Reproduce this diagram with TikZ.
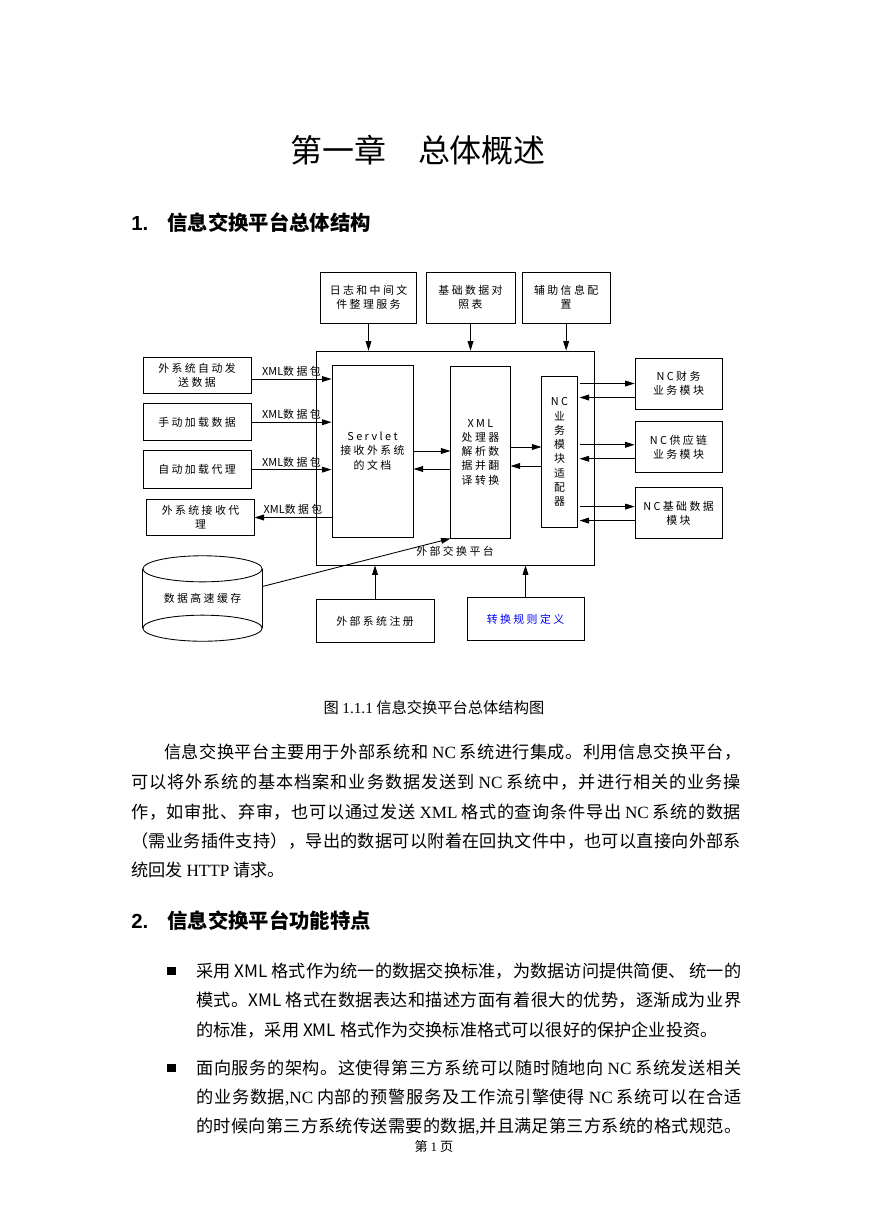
\documentclass[tikz,border=0pt]{standalone}
\usepackage{fontspec}
\setmainfont{Liberation Serif}
\setsansfont{Liberation Sans}
\newfontfamily\cjk{Noto Sans CJK SC}
\newfontfamily\cjkd[LetterSpace=22]{Noto Sans CJK SC}
\usepackage{xcolor}
\usepackage{tikz}
\usetikzlibrary{arrows.meta, positioning, calc}
% glue between CJK characters, used for full (justified) lines
\newcount\cjkc
\cjkc="4E00
\loop \XeTeXcharclass\cjkc=1 \advance\cjkc by 1 \ifnum\cjkc<"A000 \repeat
\XeTeXcharclass"3001=3 \XeTeXcharclass"3002=3
\XeTeXcharclass"FF0C=3 \XeTeXcharclass"FF09=3 \XeTeXcharclass"FF08=2
\def\cjkglue{\hskip0pt plus 1fil\relax}
\XeTeXinterchartoks 1 1 = {\cjkglue}
\XeTeXinterchartoks 1 2 = {\cjkglue}
\XeTeXinterchartoks 1 3 = {\cjkglue}
\XeTeXinterchartoks 2 1 = {\cjkglue}
\XeTeXinterchartoks 2 2 = {\cjkglue}
\XeTeXinterchartoks 2 3 = {\cjkglue}
\XeTeXinterchartoks 3 1 = {\cjkglue}
\XeTeXinterchartoks 3 2 = {\cjkglue}
\XeTeXinterchartoks 3 3 = {\cjkglue}
\newcommand\fullln[2]{\hbox to #1{\XeTeXinterchartokenstate=1 #2}}

\begin{document}
\begin{tikzpicture}[
      x=0.2417mm, y=-0.2417mm,
      font=\cjkd\fontsize{7.5}{9.8}\selectfont,
      box/.style={rectangle, draw, line width=0.6pt, align=center, inner sep=0pt},
      arr/.style={-{Triangle[length=2.3mm, width=1.4mm]}, line width=0.6pt},
      pkt/.style={above, inner sep=1.5pt},
      body/.style={font=\cjk\fontsize{11.8}{14}\selectfont, inner sep=0pt, anchor=west},
      head/.style={font=\cjk\bfseries\fontsize{14}{16}\selectfont, inner sep=0pt, anchor=west},
      headnum/.style={font=\sffamily\bfseries\fontsize{14}{16}\selectfont, inner sep=0pt, anchor=west},
      dot/.style={fill, minimum size=2.1mm, inner sep=0pt}
    ]
      \fill[white] (0,0) rectangle (869,1228);
      \useasboundingbox (0,0) rectangle (869,1228);
      % page heading
      \node[font=\cjk\fontsize{22}{26}\selectfont] (title) at (418,150) {第一章\quad 总体概述};
      \node[headnum] (h1n) at (131,223) {1.};
      \node[head] (h1) at (167,223) {信息交换平台总体结构};
      % top services
      \node[box, minimum width=23.4mm, minimum height=12.3mm] (log) at (368.5,297.5) {日志和中间文\\件整理服务};
      \node[box, minimum width=21.5mm, minimum height=12.3mm, right=2mm of log] (base) {基础数据对\\照表};
      \node[box, minimum width=21.3mm, minimum height=12.3mm, right=1.5mm of base] (aux) {辅助信息配\\置};
      % platform
      \node[box, minimum width=67.2mm, minimum height=51.7mm] (plat) at (455,458) {};
      \node[above=1mm of plat.south] (platlbl) {外部交换平台};
      \node[box, minimum width=19.6mm, minimum height=41.6mm] (servlet) at (372.5,451) {Servlet\\接收外系统\\的文档};
      \node[box, minimum width=14.3mm, minimum height=41.6mm] (xml) at (480.5,452) {XML\\处理器\\解析数\\据并翻\\译转换};
      \node[box, minimum width=8.5mm, minimum height=36.3mm] (adapter) at (559.5,452) {NC\\业\\务\\模\\块\\适\\配\\器};
      % NC modules
      \node[box, minimum width=21mm, minimum height=12.3mm] (fin) at (678.5,383.5) {NC财务\\业务模块};
      \node[box, minimum width=21mm, minimum height=12.3mm, below=2.9mm of fin] (scm) {NC供应链\\业务模块};
      \node[box, minimum width=21mm, minimum height=12.3mm, below=3.4mm of scm] (basic) {NC基础数据\\模块};
      % outside systems
      \node[box, minimum width=26.1mm, minimum height=8.7mm] (left1) at (197,375) {外系统自动发\\送数据};
      \node[box, minimum width=26.1mm, minimum height=8.9mm, below=2.4mm of left1] (left2) {手动加载数据};
      \node[box, minimum width=26.1mm, minimum height=9.2mm, below=2.2mm of left2] (left3) {自动加载代理};
      \node[box, minimum width=25.9mm, minimum height=8.9mm] (recv) at (200.5,517.5) {外系统接收代\\理};
      \node[minimum width=28.8mm, minimum height=20.5mm, inner sep=0pt] (cache) at (202.5,598.5) {数据高速缓存};
      \draw[line width=0.6pt] ($(cache.north)+(0,13)$) ellipse [x radius=14.4mm, y radius=3.15mm];
      \draw[line width=0.6pt] ($(cache.south)+(0,-13)$) ellipse [x radius=14.4mm, y radius=3.15mm];
      \draw[line width=0.6pt] ($(cache.north west)+(0,13)$) -- ($(cache.south west)+(0,-13)$);
      \draw[line width=0.6pt] ($(cache.north east)+(0,13)$) -- ($(cache.south east)+(0,-13)$);
      \node[box, minimum width=28.5mm, minimum height=10.2mm] (reg) at (375,621) {外部系统注册};
      \node[box, minimum width=28.3mm, minimum height=10.2mm, text=blue] (rule) at (525.5,619) {转换规则定义};
      % connectors
      \foreach \n in {log, base, aux}
        \draw[arr] (\n.south) -- (\n.south |- plat.north);
      \foreach \n/\d in {left1/4, left2/0, left3/0}
        \draw[arr] ($(\n.east)+(0,\d)$) -- node[pkt] {{\cjk XML}数据包} ($(\n.east -| servlet.west)+(0,\d)$);
      \draw[arr] (servlet.west |- recv.east) -- node[pkt] {{\cjk XML}数据包} (recv.east);
      \draw[arr] (servlet.east) -- (servlet.east -| xml.west);
      \draw[arr] ($(xml.west)+(0,17)$) -- ($(servlet.east)+(0,18)$);
      \draw[arr] ($(xml.east)+(0,-5)$) -- ($(adapter.west)+(0,-5)$);
      \draw[arr] ($(adapter.west)+(0,14)$) -- ($(xml.east)+(0,14)$);
      \foreach \n/\a/\b in {fin/0/14, scm/-2.5/11.5, basic/-6.5/7.5} {
        \draw[arr] ($(adapter.east |- \n.west)+(2,\a)$) -- ($(\n.west)+(0,\a)$);
        \draw[arr] ($(\n.west)+(0,\b)$) -- ($(adapter.east |- \n.west)+(2,\b)$);
      }
      \draw[arr] ($(cache.east)+(0,-12)$) -- (xml.south west);
      \draw[arr] (reg.north) -- (reg.north |- plat.south);
      \draw[arr] (rule.north) -- (rule.north |- plat.south);
      % caption and text
      \node[font=\cjk\fontsize{10.5}{12}\selectfont] (cap) at (434,708) {图 {\rmfamily 1.1.1} 信息交换平台总体结构图};
      \node[body] (p1a) at (164,752) {\fullln{139.5mm}{信息交换平台主要用于外部系统和 {\rmfamily NC} 系统进行集成。利用信息交换平台，}};
      \node[body] (p1b) at (131,782) {\fullln{147.4mm}{可以将外系统的基本档案和业务数据发送到 {\rmfamily NC} 系统中，并进行相关的业务操}};
      \node[body] (p1c) at (131,812) {\fullln{147.4mm}{作，如审批、弃审，也可以通过发送 {\rmfamily XML} 格式的查询条件导出 {\rmfamily NC} 系统的数据}};
      \node[body] (p1d) at (131,841) {\fullln{147.4mm}{（需业务插件支持），导出的数据可以附着在回执文件中，也可以直接向外部系}};
      \node[body] (p1e) at (131,870) {统回发 {\rmfamily HTTP} 请求。};
      \node[headnum] (h2n) at (131,921) {2.};
      \node[head] (h2) at (167,921) {信息交换平台功能特点};
      \node[dot] (b1) at (171.5,971) {};
      \node[body] (q1a) at (196,971) {\fullln{131.7mm}{采用 XML 格式作为统一的数据交换标准，为数据访问提供简便、 统一的}};
      \node[body] (q1b) at (196,1000.5) {\fullln{131.7mm}{模式。XML 格式在数据表达和描述方面有着很大的优势，逐渐成为业界}};
      \node[body] (q1c) at (196,1030) {的标准，采用 XML 格式作为交换标准格式可以很好的保护企业投资。};
      \node[dot] (b2) at (171.5,1068) {};
      \node[body] (q2a) at (196,1068) {\fullln{131.7mm}{面向服务的架构。这使得第三方系统可以随时随地向 {\rmfamily NC} 系统发送相关}};
      \node[body] (q2b) at (196,1097.5) {\fullln{131.7mm}{的业务数据{\rmfamily ,NC} 内部的预警服务及工作流引擎使得 {\rmfamily NC} 系统可以在合适}};
      \node[body] (q2c) at (196,1127) {\fullln{131.7mm}{的时候向第三方系统传送需要的数据{\rmfamily ,}并且满足第三方系统的格式规范。}};
      \node[font=\cjk\fontsize{9}{10}\selectfont] (foot) at (434,1147) {第 {\rmfamily 1} 页};
    \end{tikzpicture}
\end{document}
